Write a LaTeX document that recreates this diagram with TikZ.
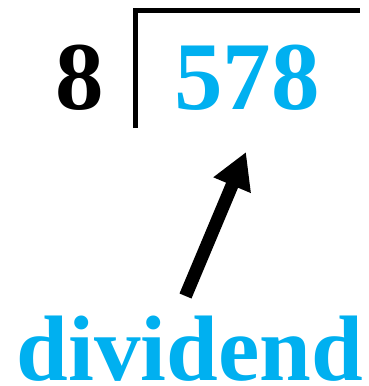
\documentclass[tikz,border=0pt]{standalone}
\usepackage{fontspec}
\setmainfont{Liberation Serif}
\usetikzlibrary{arrows.meta}
\definecolor{divcyan}{HTML}{00B0F0}
\begin{document}
\begin{tikzpicture}[x=1pt,y=-1pt,
  bignum/.style={inner sep=0pt,anchor=base,font=\bfseries\fontsize{97}{97}\selectfont},
  biglbl/.style={inner sep=0pt,anchor=base,font=\bfseries\fontsize{93}{93}\selectfont,text=divcyan},
  bracket/.style={line width=5pt},
  pointer/.style={line width=13pt,-{Triangle[length=36pt,width=38pt]}}]
\useasboundingbox (0,0) rectangle (368,386);
\node[bignum] (divisor) at (80,109) {8};
\node[bignum,text=divcyan] (dividendnum) at (247,109) {578};
\node[biglbl] (label) at (190,380) {dividend};
\coordinate (tl) at (135.5,10);
\coordinate (tr) at (360,10);
\coordinate (bl) at (135.5,128);
\draw[bracket] (bl) -- (tl) -- (tr);
\coordinate (arrstart) at (185.5,296);
\coordinate (arrtip) at (246,152);
\draw[pointer] (arrstart) -- (arrtip);
\end{tikzpicture}
\end{document}
